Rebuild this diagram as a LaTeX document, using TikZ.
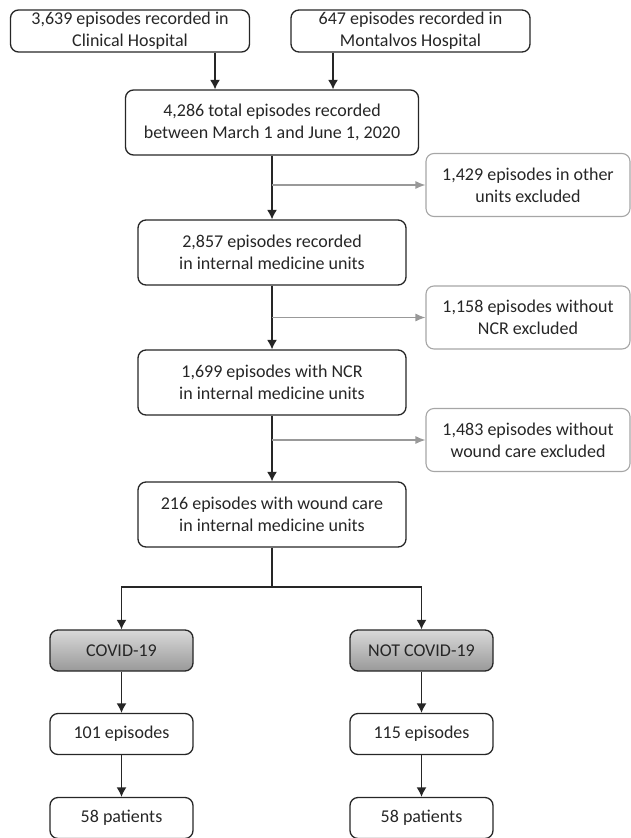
\documentclass[tikz,border=0pt]{standalone}
\usepackage{fontspec}
\setmainfont{Carlito}
\usetikzlibrary{calc,arrows.meta}

\begin{document}
\begin{tikzpicture}[x=1pt, y=-1pt, >={Latex[length=9.5pt,width=10pt]},
  font=\fontsize{18}{22}\selectfont,
  box/.style={draw=black!85, rounded corners=8pt, line width=1.3pt, align=center, inner sep=0pt, text=black!85},
  main/.style={box, minimum width=268pt, minimum height=65pt},
  src/.style={box, minimum width=239pt, minimum height=42pt},
  excl/.style={box, draw=black!35, line width=1.1pt, minimum width=204pt, minimum height=63pt},
  grp/.style={box, top color=black!15, bottom color=black!40, minimum width=143pt, minimum height=41pt},
  leaf/.style={box, minimum width=143pt, minimum height=41pt},
  arr/.style={->, draw=black!85, line width=1.4pt},
  exarr/.style={-{Latex[length=10pt,width=8pt]}, draw=black!40, line width=1.2pt}]
  \useasboundingbox (0,0) rectangle (631,838);
            \node[src] (clin) at (130,31) {3,639 episodes recorded in\\Clinical Hospital};
            \node[src] (mont) at (410.5,31) {647 episodes recorded in\\Montalvos Hospital};
            \node[main, minimum width=293pt] (total) at (272,122.5) {4,286 total episodes recorded\\between March 1 and June 1, 2020};
            \node[excl] (other) at (528,185) {1,429 episodes in other\\units excluded};
            \node[main] (intmed) at (272,252.5) {2,857 episodes recorded\\in internal medicine units};
            \node[excl] (noncr) at (528,317.5) {1,158 episodes without\\NCR excluded};
            \node[main] (ncr) at (272,382.5) {1,699 episodes with NCR\\in internal medicine units};
            \node[excl] (nowound) at (528,440) {1,483 episodes without\\wound care excluded};
            \node[main] (wound) at (272,514.5) {216 episodes with wound care\\in internal medicine units};
            \coordinate (split) at (272,587);
            \node[grp] (cov) at (121.5,650.5) {COVID-19};
            \node[grp] (ncov) at (421.5,650.5) {NOT COVID-19};
            \node[leaf] (cepi) at (121.5,734) {101 episodes};
            \node[leaf] (nepi) at (421.5,734) {115 episodes};
            \node[leaf] (cpat) at (121.5,818) {58 patients};
            \node[leaf] (npat) at (421.5,818) {58 patients};
            \draw[arr] ([xshift=-57pt]total.north |- clin.south) -- ([xshift=-57pt]total.north);
            \draw[arr] ([xshift=61pt]total.north |- mont.south) -- ([xshift=61pt]total.north);
            \draw[arr] (total) -- (intmed);
            \draw[arr] (intmed) -- (ncr);
            \draw[arr] (ncr) -- (wound);
            \draw[exarr] (total.south |- other.west) -- (other.west);
            \draw[exarr] (intmed.south |- noncr.west) -- (noncr.west);
            \draw[exarr] (ncr.south |- nowound.west) -- (nowound.west);
            \draw[arr, -] (wound) -- (split);
            \draw[arr] (split) -| (cov);
            \draw[arr] (split) -| (ncov);
            \draw[arr] (cov) -- (cepi);
            \draw[arr] (ncov) -- (nepi);
            \draw[arr] (cepi) -- (cpat);
            \draw[arr] (nepi) -- (npat);
        \end{tikzpicture}
\end{document}
